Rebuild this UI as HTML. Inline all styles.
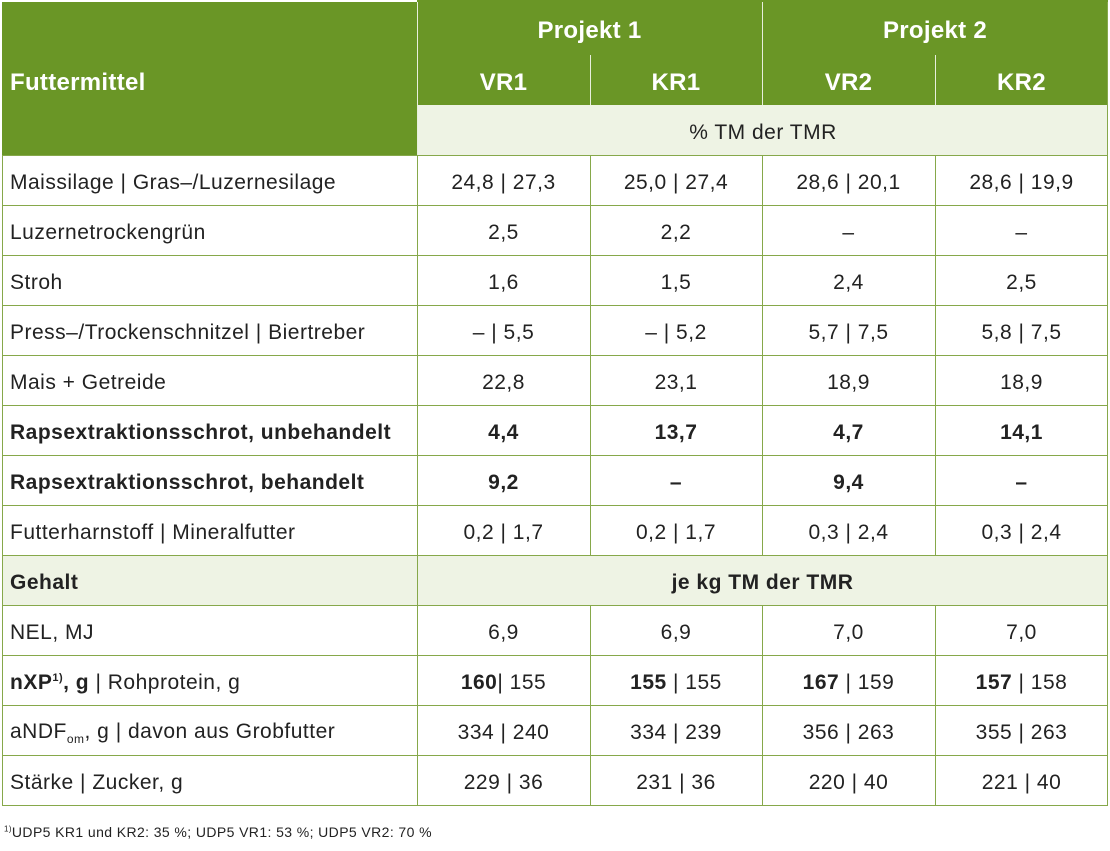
<!DOCTYPE html>
<html><head><meta charset="utf-8"><style>
body{margin:0;width:1110px;height:851px;background:#fff;position:relative;font-family:"Liberation Sans",sans-serif;color:#222;overflow:hidden}
.c{position:absolute;box-sizing:border-box;display:flex;align-items:center;justify-content:center;font-size:21px;letter-spacing:0.5px;padding-top:6px}
.l{justify-content:flex-start;padding-left:8px}
.g{background:#6a9626;color:#fff;font-weight:bold;font-size:24px;letter-spacing:0.3px}
.lg{background:#eef3e4}
.b{font-weight:bold}
.hl{position:absolute;height:1px;background:#86a84a}
.vl{position:absolute;width:1px;background:#86a84a}
sup{font-size:11px}
sub{font-size:12px}
</style></head><body>
<div class="c g" style="left:2px;top:2px;width:1106px;height:153px"></div>
<div class="c g l" style="left:2px;top:55px;width:415px;height:50px">Futtermittel</div>
<div class="c g" style="left:417px;top:0px;width:345px;height:55px">Projekt 1</div>
<div class="c g" style="left:762px;top:0px;width:346px;height:55px">Projekt 2</div>
<div class="c g" style="left:417px;top:55px;width:173px;height:50px">VR1</div>
<div class="c g" style="left:590px;top:55px;width:172px;height:50px">KR1</div>
<div class="c g" style="left:762px;top:55px;width:173px;height:50px">VR2</div>
<div class="c g" style="left:935px;top:55px;width:173px;height:50px">KR2</div>
<div class="c lg" style="left:418px;top:105px;width:690px;height:50px">% TM der TMR</div>
<div class="vl" style="left:417px;top:2px;height:153px;background:#e8eedd"></div>
<div class="vl" style="left:762px;top:2px;height:103px;background:#e8eedd"></div>
<div class="vl" style="left:590px;top:55px;height:50px;background:#e8eedd"></div>
<div class="vl" style="left:935px;top:55px;height:50px;background:#e8eedd"></div>

<div class="c lg" style="left:2px;top:555px;width:1106px;height:50px"></div>

<div class="c l" style="left:2px;top:155px;width:415px;height:50px">Maissilage | Gras–/Luzernesilage</div>
<div class="c" style="left:417px;top:155px;width:173px;height:50px">24,8 | 27,3</div>
<div class="c" style="left:590px;top:155px;width:172px;height:50px">25,0 | 27,4</div>
<div class="c" style="left:762px;top:155px;width:173px;height:50px">28,6 | 20,1</div>
<div class="c" style="left:935px;top:155px;width:173px;height:50px">28,6 | 19,9</div>

<div class="c l" style="left:2px;top:205px;width:415px;height:50px">Luzernetrockengrün</div>
<div class="c" style="left:417px;top:205px;width:173px;height:50px">2,5</div>
<div class="c" style="left:590px;top:205px;width:172px;height:50px">2,2</div>
<div class="c" style="left:762px;top:205px;width:173px;height:50px">–</div>
<div class="c" style="left:935px;top:205px;width:173px;height:50px">–</div>

<div class="c l" style="left:2px;top:255px;width:415px;height:50px">Stroh</div>
<div class="c" style="left:417px;top:255px;width:173px;height:50px">1,6</div>
<div class="c" style="left:590px;top:255px;width:172px;height:50px">1,5</div>
<div class="c" style="left:762px;top:255px;width:173px;height:50px">2,4</div>
<div class="c" style="left:935px;top:255px;width:173px;height:50px">2,5</div>

<div class="c l" style="left:2px;top:305px;width:415px;height:50px">Press–/Trockenschnitzel | Biertreber</div>
<div class="c" style="left:417px;top:305px;width:173px;height:50px">– | 5,5</div>
<div class="c" style="left:590px;top:305px;width:172px;height:50px">– | 5,2</div>
<div class="c" style="left:762px;top:305px;width:173px;height:50px">5,7 | 7,5</div>
<div class="c" style="left:935px;top:305px;width:173px;height:50px">5,8 | 7,5</div>

<div class="c l" style="left:2px;top:355px;width:415px;height:50px">Mais + Getreide</div>
<div class="c" style="left:417px;top:355px;width:173px;height:50px">22,8</div>
<div class="c" style="left:590px;top:355px;width:172px;height:50px">23,1</div>
<div class="c" style="left:762px;top:355px;width:173px;height:50px">18,9</div>
<div class="c" style="left:935px;top:355px;width:173px;height:50px">18,9</div>

<div class="c l b" style="left:2px;top:405px;width:415px;height:50px">Rapsextraktionsschrot, unbehandelt</div>
<div class="c b" style="left:417px;top:405px;width:173px;height:50px">4,4</div>
<div class="c b" style="left:590px;top:405px;width:172px;height:50px">13,7</div>
<div class="c b" style="left:762px;top:405px;width:173px;height:50px">4,7</div>
<div class="c b" style="left:935px;top:405px;width:173px;height:50px">14,1</div>

<div class="c l b" style="left:2px;top:455px;width:415px;height:50px">Rapsextraktionsschrot, behandelt</div>
<div class="c b" style="left:417px;top:455px;width:173px;height:50px">9,2</div>
<div class="c b" style="left:590px;top:455px;width:172px;height:50px">–</div>
<div class="c b" style="left:762px;top:455px;width:173px;height:50px">9,4</div>
<div class="c b" style="left:935px;top:455px;width:173px;height:50px">–</div>

<div class="c l" style="left:2px;top:505px;width:415px;height:50px">Futterharnstoff | Mineralfutter</div>
<div class="c" style="left:417px;top:505px;width:173px;height:50px">0,2 | 1,7</div>
<div class="c" style="left:590px;top:505px;width:172px;height:50px">0,2 | 1,7</div>
<div class="c" style="left:762px;top:505px;width:173px;height:50px">0,3 | 2,4</div>
<div class="c" style="left:935px;top:505px;width:173px;height:50px">0,3 | 2,4</div>

<div class="c l b" style="left:2px;top:555px;width:415px;height:50px">Gehalt</div>
<div class="c b" style="left:417px;top:555px;width:691px;height:50px">je kg TM der TMR</div>

<div class="c l" style="left:2px;top:605px;width:415px;height:50px">NEL, MJ</div>
<div class="c" style="left:417px;top:605px;width:173px;height:50px">6,9</div>
<div class="c" style="left:590px;top:605px;width:172px;height:50px">6,9</div>
<div class="c" style="left:762px;top:605px;width:173px;height:50px">7,0</div>
<div class="c" style="left:935px;top:605px;width:173px;height:50px">7,0</div>

<div class="c l" style="left:2px;top:655px;width:415px;height:50px"><span><b>nXP<sup>1)</sup>, g</b> | Rohprotein, g</span></div>
<div class="c" style="left:417px;top:655px;width:173px;height:50px"><span><b>160</b>| 155</span></div>
<div class="c" style="left:590px;top:655px;width:172px;height:50px"><span><b>155</b> | 155</span></div>
<div class="c" style="left:762px;top:655px;width:173px;height:50px"><span><b>167</b> | 159</span></div>
<div class="c" style="left:935px;top:655px;width:173px;height:50px"><span><b>157</b> | 158</span></div>

<div class="c l" style="left:2px;top:705px;width:415px;height:50px"><span>aNDF<sub>om</sub>, g | davon aus Grobfutter</span></div>
<div class="c" style="left:417px;top:705px;width:173px;height:50px">334 | 240</div>
<div class="c" style="left:590px;top:705px;width:172px;height:50px">334 | 239</div>
<div class="c" style="left:762px;top:705px;width:173px;height:50px">356 | 263</div>
<div class="c" style="left:935px;top:705px;width:173px;height:50px">355 | 263</div>

<div class="c l" style="left:2px;top:755px;width:415px;height:50px">Stärke | Zucker, g</div>
<div class="c" style="left:417px;top:755px;width:173px;height:50px">229 | 36</div>
<div class="c" style="left:590px;top:755px;width:172px;height:50px">231 | 36</div>
<div class="c" style="left:762px;top:755px;width:173px;height:50px">220 | 40</div>
<div class="c" style="left:935px;top:755px;width:173px;height:50px">221 | 40</div>

<div class="hl" style="left:2px;top:155px;width:1106px"></div>
<div class="hl" style="left:2px;top:205px;width:1106px"></div>
<div class="hl" style="left:2px;top:255px;width:1106px"></div>
<div class="hl" style="left:2px;top:305px;width:1106px"></div>
<div class="hl" style="left:2px;top:355px;width:1106px"></div>
<div class="hl" style="left:2px;top:405px;width:1106px"></div>
<div class="hl" style="left:2px;top:455px;width:1106px"></div>
<div class="hl" style="left:2px;top:505px;width:1106px"></div>
<div class="hl" style="left:2px;top:555px;width:1106px"></div>
<div class="hl" style="left:2px;top:605px;width:1106px"></div>
<div class="hl" style="left:2px;top:655px;width:1106px"></div>
<div class="hl" style="left:2px;top:705px;width:1106px"></div>
<div class="hl" style="left:2px;top:755px;width:1106px"></div>
<div class="hl" style="left:2px;top:805px;width:1106px"></div>
<div class="vl" style="left:2px;top:155px;height:651px"></div>
<div class="vl" style="left:1107px;top:2px;height:804px"></div>
<div class="vl" style="left:417px;top:155px;height:651px"></div>
<div class="vl" style="left:590px;top:155px;height:400px"></div>
<div class="vl" style="left:762px;top:155px;height:400px"></div>
<div class="vl" style="left:935px;top:155px;height:400px"></div>
<div class="vl" style="left:590px;top:605px;height:200px"></div>
<div class="vl" style="left:762px;top:605px;height:200px"></div>
<div class="vl" style="left:935px;top:605px;height:200px"></div>

<div style="position:absolute;left:4px;top:824px;font-size:14px;letter-spacing:0.4px;color:#222"><sup style="font-size:8px">1)</sup>UDP5 KR1 und KR2: 35 %; UDP5 VR1: 53 %; UDP5 VR2: 70 %</div>
</body></html>
